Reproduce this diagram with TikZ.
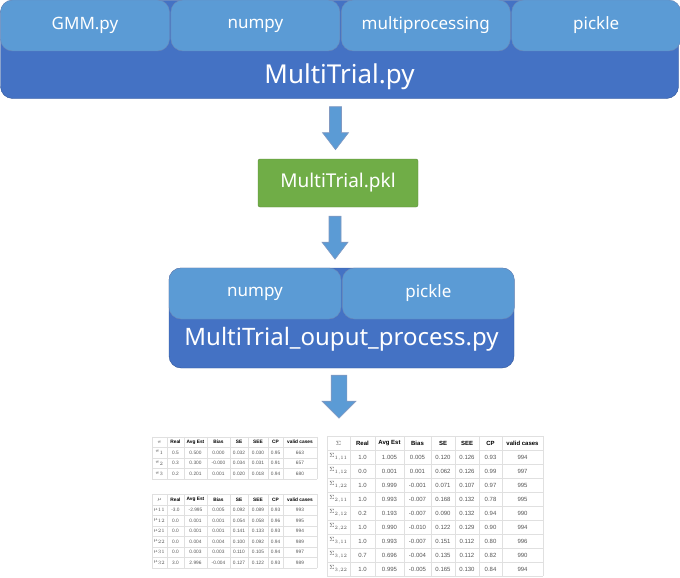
\documentclass[tikz,border=0pt]{standalone}
\usepackage{fontspec}
\setmainfont{Noto Sans}
\newfontfamily\tabfont{Liberation Sans}
\usetikzlibrary{positioning,calc}

\definecolor{outerblue}{HTML}{4472C4}
\definecolor{innerblue}{HTML}{5B9BD5}
\definecolor{edgeblue}{HTML}{2F5597}
\definecolor{pklgreen}{HTML}{70AD47}
\definecolor{gridgray}{HTML}{E0E0E0}
\definecolor{numgray}{HTML}{555555}

\tikzset{
  outerbox/.style={draw=edgeblue, fill=outerblue, rounded corners=12pt, inner sep=0pt},
  libbox/.style={draw=edgeblue!70, fill=innerblue, rounded corners=12pt, inner sep=0pt,
    text=white, font=\fontsize{17}{20}\selectfont},
  scriptname/.style={text=white, anchor=base, inner sep=0pt},
  pklbox/.style={draw=pklgreen!80!black, fill=pklgreen, rounded corners=2pt, inner sep=0pt,
    text=white, font=\fontsize{19}{22}\selectfont},
  gridline/.style={draw=gridgray, line width=0.4pt},
  cellsmall/.style={inner sep=0pt, text=numgray, font=\tabfont\fontsize{4.8}{5}\selectfont},
  cellbig/.style={inner sep=0pt, text=numgray, font=\tabfont\fontsize{6}{7}\selectfont},
  pics/downarrow/.style={code={
    \draw[fill=innerblue, draw=edgeblue!60, line width=0.6pt]
      (-6,0) -- (6,0) -- (6,-26) -- (13,-26) -- (0,-43) -- (-13,-26) -- (-6,-26) -- cycle;
  }}
}

\def\smallcols{{159.5,175.5,195.5,218.5,239,258,275.5,300}}
\def\bigcols{{338.5,362.5,389.5,417.5,443,467,490.5,522.5}}

\begin{document}
\begin{tikzpicture}[x=1pt, y=1pt]
  \useasboundingbox (0,0) rectangle (680,-578);

  % MultiTrial.py
  \node[outerbox, minimum width=678pt, minimum height=98pt] (mtbox) at (339.5,-49.5) {};
  \node[libbox, minimum width=169pt, minimum height=51pt] (gmm) at (85,-25.5) {GMM.py};
  \node[libbox, minimum width=169pt, minimum height=51pt, right=1pt of gmm] (np1) {numpy};
  \node[libbox, minimum width=169pt, minimum height=51pt, right=1pt of np1] (mp) {multiprocessing};
  \node[libbox, minimum width=169pt, minimum height=51pt, right=1pt of mp] (pk1) {pickle};
  \node[scriptname, font=\fontsize{26}{30}\selectfont] (mtname) at (339.5,-83) {MultiTrial.py};

  \pic at ($(mtbox.south)+(-4,-8)$) {downarrow};

  % MultiTrial.pkl
  \node[pklbox, minimum width=160pt, minimum height=48pt] (pkl) at (338,-183) {MultiTrial.pkl};

  \pic at ($(pkl.south)+(-3,-9)$) {downarrow};

  % MultiTrial_ouput_process.py
  \node[outerbox, minimum width=345pt, minimum height=100pt] (proc) at (341.5,-318) {};
  \node[libbox, minimum width=172pt, minimum height=51pt] (np2) at (255,-293.5) {numpy};
  \node[libbox, minimum width=172pt, minimum height=51pt, right=1pt of np2] (pk2) {pickle};
  \node[scriptname, font=\fontsize{24}{28}\selectfont] (procname) at (341.5,-345) {MultiTrial\_ouput\_process.py};

  \pic[xscale=1.3] at ($(proc.south)+(-2.5,-7)$) {downarrow};

  % pi table
  \foreach \yy in {436.7,447.3,457.9,468.5,479.1}
    \draw[gridline] (152,-\yy) -- (317,-\yy);
  \foreach \xx in {152,167,184,207,230,248,268,283,317}
    \draw[gridline] (\xx,-436.7) -- (\xx,-479.1);
  \foreach \row [count=\r from 0] in {
      {$\pi$,Real,Avg Est,Bias,SE,SEE,CP,valid cases},
      {$\pi_1$,0.5,0.500,0.000,0.032,0.030,0.95,663},
      {$\pi_2$,0.3,0.300,-0.000,0.034,0.031,0.91,657},
      {$\pi_3$,0.2,0.201,0.001,0.020,0.018,0.94,680}}
    \foreach \cell [count=\c from 0] in \row {
      \pgfmathsetmacro\cx{\smallcols[\c]}
      \node[cellsmall] (pi-\r-\c) at (\cx,{-442-\r*10.6})
        {\ifnum\r=0 \ifnum\c>0 \bfseries\color{black}\fi\fi\cell};
    }

  % mu table
  \foreach \yy in {494,505,515.5,526,536.5,547,557.5,568}
    \draw[gridline] (152,-\yy) -- (317,-\yy);
  \foreach \xx in {152,167,184,207,230,248,268,283,317}
    \draw[gridline] (\xx,-494) -- (\xx,-568);
  \foreach \row [count=\r from 0] in {
      {$\mu$,Real,Avg Est,Bias,SE,SEE,CP,valid cases},
      {$\mu_{11}$,-3.0,-2.995,0.005,0.092,0.089,0.93,993},
      {$\mu_{12}$,0.0,0.001,0.001,0.054,0.058,0.96,995},
      {$\mu_{21}$,0.0,0.001,0.001,0.141,0.133,0.93,994},
      {$\mu_{22}$,0.0,0.004,0.004,0.100,0.092,0.94,989},
      {$\mu_{31}$,0.0,0.003,0.003,0.110,0.105,0.94,997},
      {$\mu_{32}$,3.0,2.996,-0.004,0.127,0.122,0.93,989}}
    \foreach \cell [count=\c from 0] in \row {
      \pgfmathsetmacro\cx{\smallcols[\c]}
      \node[cellsmall] (mu-\r-\c) at (\cx,{-499.5-\r*10.5})
        {\ifnum\r=0 \ifnum\c>0 \bfseries\color{black}\fi\fi\cell};
    }

  % sigma table
  \foreach \yy in {436,450,464,478,492,506,520,534,548,562,576}
    \draw[gridline] (327,-\yy) -- (543,-\yy);
  \foreach \xx in {327,350,375,404,431,455,479,502,543}
    \draw[gridline] (\xx,-436) -- (\xx,-576);
  \foreach \row [count=\r from 0] in {
      {$\Sigma$,Real,Avg Est,Bias,SE,SEE,CP,valid cases},
      {$\Sigma_{1,11}$,1.0,1.005,0.005,0.120,0.126,0.93,994},
      {$\Sigma_{1,12}$,0.0,0.001,0.001,0.062,0.126,0.99,997},
      {$\Sigma_{1,22}$,1.0,0.999,-0.001,0.071,0.107,0.97,995},
      {$\Sigma_{2,11}$,1.0,0.993,-0.007,0.168,0.132,0.78,995},
      {$\Sigma_{2,12}$,0.2,0.193,-0.007,0.090,0.132,0.94,990},
      {$\Sigma_{2,22}$,1.0,0.990,-0.010,0.122,0.129,0.90,994},
      {$\Sigma_{3,11}$,1.0,0.993,-0.007,0.151,0.112,0.80,996},
      {$\Sigma_{3,12}$,0.7,0.696,-0.004,0.135,0.112,0.82,990},
      {$\Sigma_{3,22}$,1.0,0.995,-0.005,0.165,0.130,0.84,994}}
    \foreach \cell [count=\c from 0] in \row {
      \pgfmathsetmacro\cx{\bigcols[\c]}
      \node[cellbig] (sg-\r-\c) at (\cx,{-443-\r*14})
        {\ifnum\r=0 \ifnum\c>0 \bfseries\color{black}\fi\fi\cell};
    }
\end{tikzpicture}
\end{document}
